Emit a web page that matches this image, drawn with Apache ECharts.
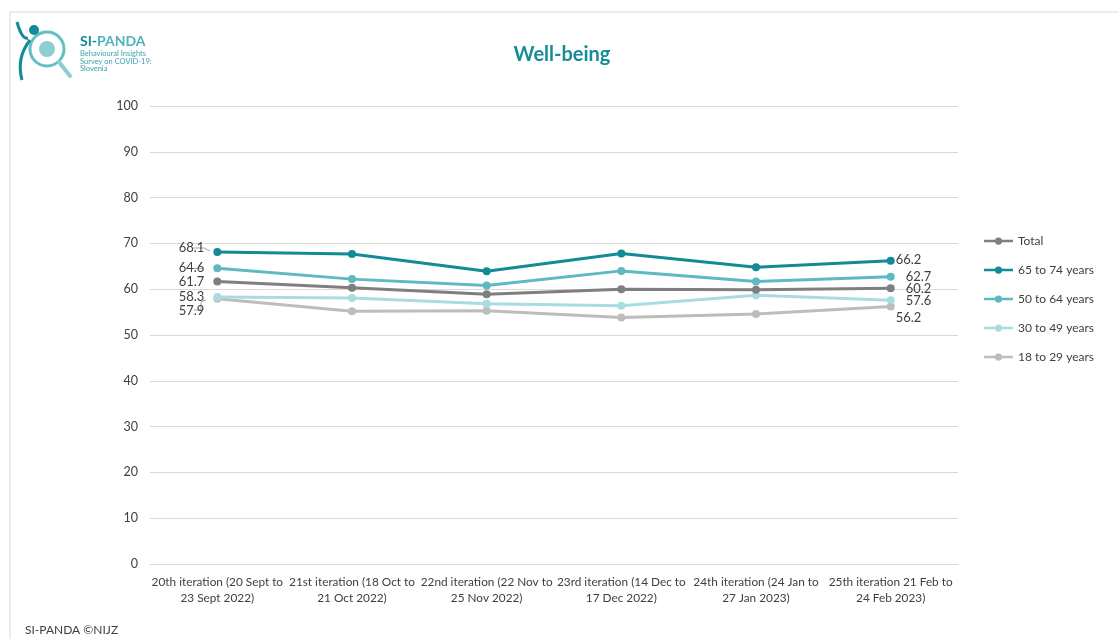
<!DOCTYPE html>
<html>
<head>
<meta charset="utf-8">
<script src="https://cdn.jsdelivr.net/npm/echarts@6/dist/echarts.min.js"></script>
<style>
  html, body { margin: 0; padding: 0; background: #ffffff; }
  #chart { width: 1119px; height: 639px; }
</style>
</head>
<body>
<div id="chart"></div>
<script>
// Survey iterations (x-axis categories)
const categories = [
  '20th iteration (20 Sept to\n23 Sept 2022)',
  '21st iteration (18 Oct to\n21 Oct 2022)',
  '22nd iteration (22 Nov to\n25 Nov 2022)',
  '23rd iteration (14 Dec to\n17 Dec 2022)',
  '24th iteration (24 Jan to\n27 Jan 2023)',
  '25th iteration 21 Feb to\n24 Feb 2023)'
];

// Well-being scores per group
const seriesNames = ['Total', '65 to 74 years', '50 to 64 years', '30 to 49 years', '18 to 29 years'];
const total      = [61.7, 60.3, 58.9, 60.0, 59.9, 60.2];
const age65to74  = [68.1, 67.7, 63.9, 67.8, 64.8, 66.2];
const age50to64  = [64.6, 62.2, 60.8, 64.0, 61.7, 62.7];
const age30to49  = [58.3, 58.1, 56.8, 56.4, 58.7, 57.6];
const age18to29  = [57.9, 55.2, 55.3, 53.8, 54.6, 56.2];

// Y-axis ticks
const yMin = 0, yMax = 100, yStep = 10;

const colors = ['#7f7f81', '#138b96', '#5fb9c0', '#a8dce1', '#bdbdbd'];
const values = [total, age65to74, age50to64, age30to49, age18to29];

// Label placement for first and last points of each line (index order as seriesNames)
const firstLabel = [
  { position: 'left', offset: [-4, 0] },
  { position: 'left', offset: [-4, -4] },
  { position: 'left', offset: [-4, 0] },
  { position: 'left', offset: [-4, 0] },
  { position: 'left', offset: [-4, 12] }
];
const lastLabel = [
  { position: 'right', offset: [6, 1] },
  { position: 'right', offset: [-4, -1] },
  { position: 'right', offset: [6, 0] },
  { position: 'right', offset: [6, 1] },
  { position: 'right', offset: [-4, 11] }
];

const FONT = 'Lato, "Open Sans", sans-serif';

function buildData(arr, i) {
  const last = arr.length - 1;
  return arr.map((v, j) => {
    if (j === 0) {
      return { value: v, label: Object.assign({ show: true }, firstLabel[i]) };
    }
    if (j === last) {
      return { value: v, label: Object.assign({ show: true }, lastLabel[i]) };
    }
    return { value: v };
  });
}

const series = seriesNames.map((name, i) => ({
  name: name,
  type: 'line',
  data: buildData(values[i], i),
  symbol: 'circle',
  symbolSize: 8,
  z: 10 - i,
  lineStyle: { width: 3, color: colors[i] },
  itemStyle: { color: colors[i] },
  label: {
    show: false,
    color: '#404040',
    fontSize: 13,
    fontFamily: FONT,
    formatter: p => p.value.toFixed(1)
  },
  emphasis: { disabled: true }
}));

// Short grey leader ticks beside the first-point labels
const leaderStyle = { stroke: '#a6a6a6', lineWidth: 1, fill: null };

const chart = echarts.init(document.getElementById('chart'), null, { renderer: 'canvas' });

// Legend marker: a line segment with a dot in its middle
const legendIcon = 'path://M0,6.5 L12.5,6.5 L12.5,9.5 L0,9.5 Z M19.5,6.5 L32,6.5 L32,9.5 L19.5,9.5 Z ' +
  'M12,8 A4,4 0 1,1 20,8 A4,4 0 1,1 12,8 Z';

chart.setOption({
  animation: false,
  backgroundColor: '#ffffff',
  color: colors,
  title: {
    text: 'Well-being',
    left: 557,
    top: 40,
    textAlign: 'center',
    textStyle: { color: '#178c97', fontSize: 20, fontWeight: 'bold', fontFamily: FONT }
  },
  legend: {
    orient: 'vertical',
    left: 979,
    top: 228,
    itemGap: 13,
    itemWidth: 29,
    itemHeight: 16,
    icon: legendIcon,
    textStyle: { color: '#404040', fontSize: 12, fontFamily: FONT, lineHeight: 16 },
    data: seriesNames
  },
  grid: { left: 150, right: 161, top: 106, bottom: 75, containLabel: false },
  xAxis: {
    type: 'category',
    data: categories,
    boundaryGap: true,
    axisLine: { show: true, lineStyle: { color: '#d9d9d9', width: 1 } },
    axisTick: { show: false },
    axisLabel: {
      color: '#404040',
      fontSize: 11.8,
      fontFamily: FONT,
      lineHeight: 16,
      margin: 10,
      interval: 0
    }
  },
  yAxis: {
    type: 'value',
    min: yMin,
    max: yMax,
    interval: yStep,
    axisLine: { show: false },
    axisTick: { show: false },
    splitLine: { lineStyle: { color: '#d9d9d9', width: 1 } },
    axisLabel: { color: '#404040', fontSize: 12.5, fontFamily: FONT, margin: 12 }
  },
  series: series,
  graphic: [
    // outer frame
    {
      type: 'polyline',
      shape: { points: [[10, 639], [10, 12], [1119, 12]] },
      style: { stroke: '#d9d9d9', lineWidth: 1, fill: null },
      silent: true
    },
    // leader ticks next to first-point labels
    { type: 'polyline', shape: { points: [[192, 248], [204, 248], [210, 251]] }, style: leaderStyle, silent: true },
    { type: 'line', shape: { x1: 193, y1: 268.5, x2: 203, y2: 268.5 }, style: leaderStyle, silent: true },
    { type: 'polyline', shape: { points: [[194, 310], [201, 310], [201, 302], [206, 300]] }, style: leaderStyle, silent: true },
    // logo: magnifying glass with figure
    {
      type: 'circle',
      shape: { cx: 47, cy: 49, r: 17 },
      style: { stroke: '#63bfc6', lineWidth: 3, fill: '#ffffff' },
      silent: true
    },
    {
      type: 'circle',
      shape: { cx: 47, cy: 49, r: 8 },
      style: { fill: '#8fcdd2' },
      silent: true
    },
    {
      type: 'line',
      shape: { x1: 59, y1: 62, x2: 70, y2: 76 },
      style: { stroke: '#8fcdd2', lineWidth: 4, lineCap: 'round' },
      silent: true
    },
    {
      type: 'circle',
      shape: { cx: 34, cy: 30, r: 5 },
      style: { fill: '#138b96' },
      silent: true
    },
    {
      type: 'bezierCurve',
      shape: { x1: 17, y1: 22, cpx1: 22, cpy1: 40, x2: 28, y2: 38 },
      style: { stroke: '#138b96', lineWidth: 3, fill: null },
      silent: true
    },
    {
      type: 'bezierCurve',
      shape: { x1: 30, y1: 40, cpx1: 16, cpy1: 58, x2: 22, y2: 80 },
      style: { stroke: '#138b96', lineWidth: 3, fill: null },
      silent: true
    },
    {
      type: 'text',
      left: 80,
      top: 34,
      style: {
        text: '{a|SI-}{b|PANDA}',
        rich: {
          a: { fontSize: 14, fontWeight: 'bold', fill: '#138b96', fontFamily: FONT },
          b: { fontSize: 14, fontWeight: 'bold', fill: '#4fb3bb', fontFamily: FONT }
        }
      },
      silent: true
    },
    {
      type: 'text',
      left: 80,
      top: 50,
      style: {
        text: 'Behavioural Insights\nSurvey on COVID-19:\nSlovenia',
        fontSize: 7.5,
        lineHeight: 7.5,
        fill: '#3aa4ad',
        fontFamily: FONT
      },
      silent: true
    },
    // footer
    {
      type: 'text',
      left: 25,
      top: 624,
      style: { text: 'SI-PANDA \u00A9NIJZ', fontSize: 12, fill: '#404040', fontFamily: FONT },
      silent: true
    }
  ]
});
</script>
</body>
</html>
